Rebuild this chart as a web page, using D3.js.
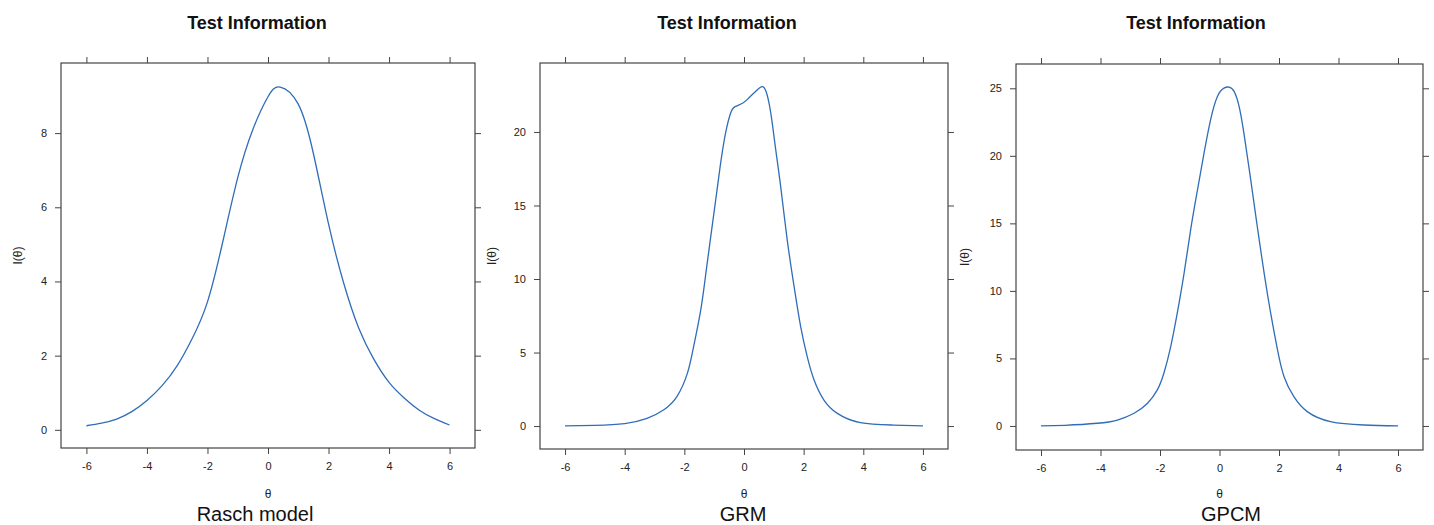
<!DOCTYPE html>
<html>
<head>
<meta charset="utf-8">
<script src="https://cdn.jsdelivr.net/npm/d3@7"></script>
<style>
  html, body { margin: 0; padding: 0; background: #fff; }
  svg { display: block; font-family: "Liberation Sans", Arial, sans-serif; }
</style>
</head>
<body>
<svg id="chart" width="1434" height="525"></svg>
<script>
// ---- data ----
const panelTitles = ["Test Information", "Test Information", "Test Information"];
const panelSubtitles = ["Rasch model", "GRM", "GPCM"];
const xTicks = [-6, -4, -2, 0, 2, 4, 6];
const yTicks1 = [0, 2, 4, 6, 8];
const yTicks2 = [0, 5, 10, 15, 20];
const yTicks3 = [0, 5, 10, 15, 20, 25];

const theta1 = [-6, -5.5, -5, -4.5, -4, -3.5, -3, -2.5, -2, -1.5, -1, -0.5, 0, 0.4, 1, 1.5, 2, 2.5, 3, 3.5, 4, 4.5, 5, 5.5, 6];
const info1  = [0.11, 0.18, 0.29, 0.49, 0.79, 1.19, 1.73, 2.47, 3.45, 5.05, 6.80, 8.10, 8.98, 9.24, 8.78, 7.45, 5.55, 3.96, 2.74, 1.90, 1.28, 0.86, 0.53, 0.30, 0.13];

const theta2 = [-6, -5, -4, -3.25, -2.7, -2.25, -1.9, -1.7, -1.45, -1.25, -1, -0.8, -0.62, -0.45, -0.3, -0.05, 0.15, 0.38, 0.55, 0.72, 0.9, 1.05, 1.23, 1.45, 1.68, 1.9, 2.12, 2.35, 2.68, 3.13, 3.9, 5, 6];
const info2  = [0.01, 0.05, 0.17, 0.52, 1.09, 2.0, 3.58, 5.3, 7.9, 10.84, 14.6, 17.64, 19.9, 21.27, 21.72, 21.95, 22.29, 22.74, 23.04, 22.86, 21.27, 19.0, 16.28, 12.65, 9.48, 6.76, 4.72, 3.13, 1.77, 0.86, 0.23, 0.07, 0.01];

const theta3 = [-6, -5.2, -4.1, -3.43, -2.87, -2.42, -2.09, -1.87, -1.64, -1.42, -1.19, -0.97, -0.74, -0.52, -0.3, -0.07, 0.15, 0.32, 0.49, 0.66, 0.82, 1.05, 1.27, 1.5, 1.72, 1.95, 2.17, 2.5, 2.95, 3.73, 4.85, 6];
const info3  = [0.01, 0.05, 0.2, 0.44, 0.94, 1.68, 2.67, 3.9, 5.88, 8.35, 11.31, 14.52, 17.48, 20.2, 22.67, 24.4, 25.01, 25.09, 24.77, 23.65, 21.68, 18.22, 14.77, 11.31, 8.35, 5.63, 3.65, 2.17, 1.06, 0.32, 0.07, 0.01];

// ---- layout ----
const panels = [
  { theta: theta1, info: info1, yTicks: yTicks1, yDomain: [-0.49, 9.89],
    box: { l: 61, r: 475, t: 63, b: 448 }, titleX: 257, subX: 255, ylabX: 22 },
  { theta: theta2, info: info2, yTicks: yTicks2, yDomain: [-1.56, 24.69],
    box: { l: 540, r: 948, t: 63, b: 449 }, titleX: 727, subX: 743, ylabX: 496 },
  { theta: theta3, info: info3, yTicks: yTicks3, yDomain: [-1.78, 26.8],
    box: { l: 1016, r: 1423, t: 64, b: 450 }, titleX: 1196, subX: 1231, ylabX: 969 }
];
const xDomain = [-6.84, 6.84];
const axisColor = "#444";
const textColor = "#222";
const lineColor = "#2f6db8";
const tickLen = 6;
const fmt = d => String(d);

const svg = d3.select("#chart");

panels.forEach((p, i) => {
  const x = d3.scaleLinear().domain(xDomain).range([p.box.l, p.box.r]);
  const y = d3.scaleLinear().domain(p.yDomain).range([p.box.b, p.box.t]);
  const g = svg.append("g");

  const styleAxis = sel => {
    sel.select(".domain").remove();
    sel.selectAll(".tick line").attr("stroke", axisColor).attr("stroke-width", 1);
    sel.selectAll(".tick text").attr("fill", textColor)
      .style("font-family", "'Liberation Sans', Arial, sans-serif").style("font-size", "11px");
  };

  g.append("g").attr("transform", `translate(0,${p.box.b})`)
    .call(d3.axisBottom(x).tickValues(xTicks).tickSize(tickLen).tickPadding(8).tickFormat(fmt))
    .call(styleAxis);
  g.append("g").attr("transform", `translate(0,${p.box.t})`)
    .call(d3.axisTop(x).tickValues(xTicks).tickSize(tickLen).tickFormat(""))
    .call(styleAxis);
  g.append("g").attr("transform", `translate(${p.box.l},0)`)
    .call(d3.axisLeft(y).tickValues(p.yTicks).tickSize(tickLen).tickPadding(8).tickFormat(fmt))
    .call(styleAxis);
  g.append("g").attr("transform", `translate(${p.box.r},0)`)
    .call(d3.axisRight(y).tickValues(p.yTicks).tickSize(tickLen).tickFormat(""))
    .call(styleAxis);

  g.append("rect")
    .attr("x", p.box.l).attr("y", p.box.t)
    .attr("width", p.box.r - p.box.l).attr("height", p.box.b - p.box.t)
    .attr("fill", "none").attr("stroke", axisColor).attr("stroke-width", 1.2);

  const pts = p.theta.map((t, k) => [t, p.info[k]]);
  const line = d3.line().x(d => x(d[0])).y(d => y(d[1])).curve(d3.curveNatural);
  g.append("path").datum(pts)
    .attr("d", line)
    .attr("fill", "none").attr("stroke", lineColor).attr("stroke-width", 1.3);

  g.append("text").attr("x", p.titleX).attr("y", 29)
    .attr("text-anchor", "middle").attr("fill", "#111")
    .style("font-size", "18px").style("font-weight", "bold")
    .text(panelTitles[i]);

  g.append("text").attr("x", (p.box.l + p.box.r) / 2).attr("y", 498)
    .attr("text-anchor", "middle").attr("fill", textColor)
    .style("font-size", "12px").text("θ");

  const cy = (p.box.t + p.box.b) / 2;
  g.append("text").attr("transform", `translate(${p.ylabX},${cy}) rotate(-90)`)
    .attr("text-anchor", "middle").attr("fill", textColor)
    .style("font-size", "12px").text("I(θ)");

  g.append("text").attr("x", p.subX).attr("y", 521)
    .attr("text-anchor", "middle").attr("fill", "#111")
    .style("font-size", "20px").text(panelSubtitles[i]);
});
</script>
</body>
</html>
